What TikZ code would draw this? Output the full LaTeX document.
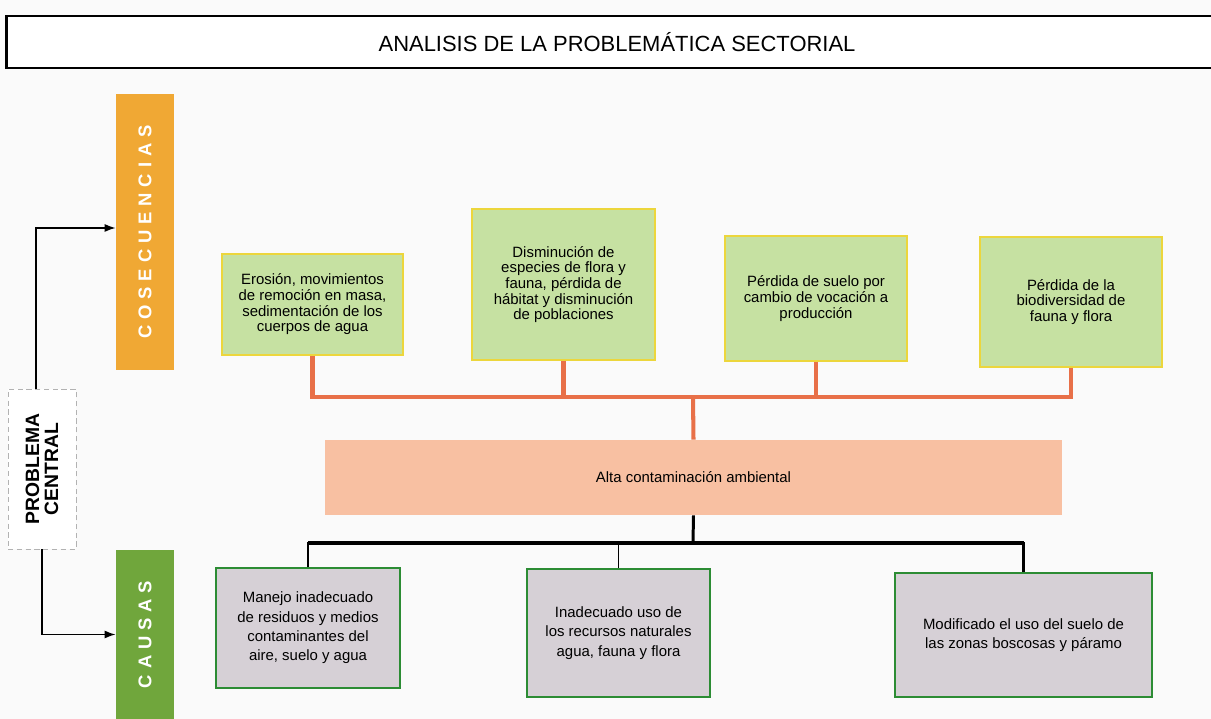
\documentclass[tikz,border=0pt]{standalone}
\usepackage{fontspec}
\setmainfont{Liberation Sans}
\newfontfamily\spacedfont[LetterSpace=32]{Liberation Sans}
\usetikzlibrary{arrows.meta,positioning}

\definecolor{bgpage}{RGB}{250,250,250}
\definecolor{consbar}{RGB}{240,168,52}
\definecolor{causbar}{RGB}{112,166,60}
\definecolor{consfill}{RGB}{198,225,162}
\definecolor{consline}{RGB}{236,214,60}
\definecolor{causfill}{RGB}{214,208,214}
\definecolor{causline}{RGB}{44,140,52}
\definecolor{orangeline}{RGB}{232,112,72}
\definecolor{centralfill}{RGB}{248,192,162}

\tikzset{
  consbox/.style={rectangle,draw=consline,line width=1pt,fill=consfill,align=center,font=\fontsize{8.5}{8.9}\selectfont,inner sep=1pt},
  causbox/.style={rectangle,draw=causline,line width=1.1pt,fill=causfill,align=center,font=\fontsize{8.5}{11}\selectfont,inner sep=1pt},
  sidebar/.style={rectangle,minimum width=1.16cm,text=white,font=\spacedfont\bfseries\fontsize{10.5}{12}\selectfont},
  olink/.style={orangeline,line width=2.3pt},
  klink/.style={black,line width=1.7pt},
}

\begin{document}
\begin{tikzpicture}[x=0.02cm,y=-0.02cm]
\useasboundingbox[fill=bgpage] (0,0) rectangle (1211,719);

% Title
\node[rectangle,draw,line width=1.6pt,fill=white,minimum width=24.44cm,minimum height=1.04cm,font=\fontsize{12.5}{14}\selectfont] (title) at (617,42) {ANALISIS DE LA PROBLEMÁTICA SECTORIAL};

% Side labels
\node[sidebar,fill=consbar,minimum height=5.52cm] (cons) at (145,232) {\rotatebox{90}{COSECUENCIAS}};
\node[sidebar,fill=causbar,minimum height=3.38cm] (caus) at (145,634.5) {\rotatebox{90}{CAUSAS}};
\node[rectangle,draw=gray!60,densely dashed,fill=white,minimum width=1.36cm,minimum height=3.2cm,align=center,font=\bfseries\fontsize{11}{13}\selectfont] (prob) at (42,469) {\rotatebox{90}{\shortstack{PROBLEMA\\CENTRAL}}};

\draw[-{Latex[length=2.2mm,width=1.6mm]},line width=0.8pt] ([xshift=-0.12cm]prob.north) |- ([yshift=0.08cm]cons.west);
\draw[-{Latex[length=2.2mm,width=1.6mm]},line width=0.8pt] (prob.south) |- (caus.west);

% Consequences
\node[consbox,minimum width=3.62cm,minimum height=2.02cm] (c1) at (312.5,304.5) {Erosión, movimientos\\de remoción en masa,\\sedimentación de los\\cuerpos de agua};
\node[consbox,minimum width=3.66cm,minimum height=3.02cm] (c2) at (563.5,284.5) {Disminución de\\especies de flora y\\fauna, pérdida de\\hábitat y disminución\\de poblaciones};
\node[consbox,minimum width=3.64cm,minimum height=2.5cm] (c3) at (816,298.5) {Pérdida de suelo por\\cambio de vocación a\\producción};
\node[consbox,minimum width=3.64cm,minimum height=2.6cm] (c4) at (1071,302) {Pérdida de la\\biodiversidad de\\fauna y flora};

% Central problem
\node[rectangle,fill=centralfill,minimum width=14.74cm,minimum height=1.5cm,font=\fontsize{8.5}{10}\selectfont] (central) at (693.5,477.5) {Alta contaminación ambiental};

\coordinate (obus) at (693,397);
\draw[olink] (c1.south) |- (obus);
\draw[olink] (c4.south) |- (obus);
\draw[olink] (c2.south) -- (c2.south |- obus);
\draw[olink] (c3.south) -- (c3.south |- obus);
\draw[olink] (obus) -- (central.north);

% Causes
\node[causbox,minimum width=3.68cm,minimum height=2.4cm] (k1) at (308,628) {Manejo inadecuado\\de residuos y medios\\contaminantes del\\aire, suelo y agua};
\node[causbox,minimum width=3.66cm,minimum height=2.56cm] (k2) at (618.5,633) {Inadecuado uso de\\los recursos naturales\\agua, fauna y flora};
\node[causbox,minimum width=5.14cm,minimum height=2.48cm] (k3) at (1023.5,635) {Modificado el uso del suelo de\\las zonas boscosas y páramo};

\coordinate (kbus) at (693,543);
\draw[klink] (central.south) -- (kbus);
\draw[klink] (k1.north) |- (kbus);
\draw[klink] (k3.north) |- (kbus);
\draw[black,line width=1.1pt] (k2.north) -- (k2.north |- kbus);
\draw[black,line width=2.8pt] (k1.north |- kbus) -- (k3.north |- kbus);
\end{tikzpicture}
\end{document}
